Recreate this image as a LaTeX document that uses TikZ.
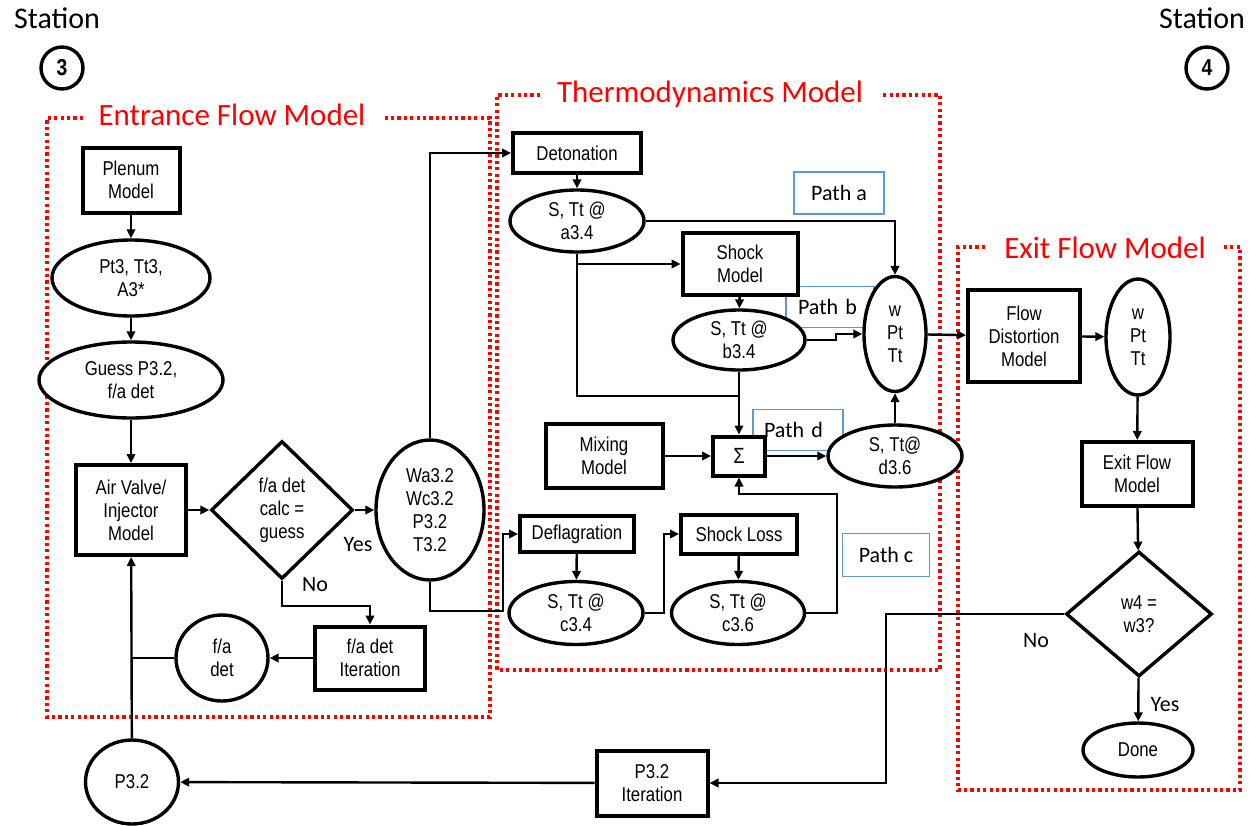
\documentclass[tikz,border=0pt]{standalone}
\usepackage{fontspec}
\newfontfamily\nf{Liberation Sans}[FakeStretch=0.84]
\newfontfamily\cf{Carlito}
\usetikzlibrary{shapes.geometric,arrows.meta,calc}
\definecolor{pblue}{RGB}{91,155,213}
\begin{document}
\begin{tikzpicture}[x=1pt,y=-1pt,
  base/.style={font=\nf\fontsize{20}{23}\selectfont, align=center, inner sep=0pt, fill=white},
  boxn/.style={base, draw, line width=4pt},
  elln/.style={base, draw, ellipse, line width=3.4pt},
  diam/.style={base, draw, diamond, line width=3.4pt},
  pathbox/.style={draw=pblue, line width=1.6pt, font=\cf\fontsize{22}{24}\selectfont, inner sep=0pt},
  lbl/.style={font=\cf\fontsize{22}{24}\selectfont, inner sep=0pt},
  ttl/.style={font=\cf\fontsize{31}{33}\selectfont, text=red, inner sep=0pt},
  reddot/.style={draw=red, line width=3.6pt, dash pattern=on 3.2pt off 3.2pt},
  ln/.style={line width=2.4pt},
  conn/.style={line width=2.4pt, -{Triangle[length=9pt,width=8.5pt]}},
  stc/.style={draw, circle, line width=3.4pt, minimum size=42pt, inner sep=0pt, font=\nf\bfseries\fontsize{23}{23}\selectfont}
]
\useasboundingbox (0,0) rectangle (1260,825);

% stations
\node[font=\cf\fontsize{30}{32}\selectfont, inner sep=0pt] (st3) at (57,18) {Station};
\node[stc] (c3) at (62,68) {3};
\node[font=\cf\fontsize{30}{32}\selectfont, inner sep=0pt] (st4) at (1202,18) {Station};
\node[stc] (c4) at (1207,68) {4};

% model frames
\draw[reddot] (83,118) -- (47,118) -- (47,717) -- (490,717) -- (490,118) -- (383,118);
\node[ttl] (tEnt) at (232,115) {Entrance Flow Model};
\draw[reddot] (540,95) -- (497,95) -- (497,670) -- (940,670) -- (940,95) -- (880,95);
\node[ttl] (tThe) at (710,94) {Thermodynamics Model};
\draw[reddot] (985,247) -- (958,247) -- (958,790) -- (1240,790) -- (1240,247) -- (1222,247);
\node[ttl] (tExi) at (1105,248) {Exit Flow Model};

% path label boxes
\node[pathbox, minimum width=90pt, minimum height=42pt] (pa) at (839,193) {Path a};
\node[pathbox, minimum width=88pt, minimum height=41pt, text width=80pt, align=left] (pb) at (830,307) {\hspace*{8pt}Path b};
\node[pathbox, minimum width=90pt, minimum height=41pt, text width=84pt, align=left] (pd) at (798,430) {\hspace*{8pt}Path d};
\node[pathbox, minimum width=87pt, minimum height=43pt] (pc) at (886,555) {Path c};

% entrance nodes
\node[boxn, minimum width=97pt, minimum height=65pt] (plen) at (131,180) {Plenum\\Model};
\node[elln, minimum width=158pt, minimum height=76pt] (pt3) at (131,278) {Pt3, Tt3,\\A3*};
\node[elln, minimum width=184pt, minimum height=76pt] (guess) at (131,380) {Guess P3.2,\\f/a det};
\node[boxn, minimum width=110pt, minimum height=90pt] (air) at (131,510) {Air Valve/\\Injector\\Model};
\node[diam, minimum width=142pt, minimum height=138pt] (dia) at (282,510) {f/a det\\calc =\\guess};
\node[elln, minimum width=108pt, minimum height=140pt] (wa) at (430,510) {Wa3.2\\Wc3.2\\P3.2\\T3.2};
\node[boxn, minimum width=110pt, minimum height=63pt] (iter) at (370,658) {f/a det\\Iteration};
\node[elln, minimum width=92pt, minimum height=86pt] (fad) at (222,658) {f/a\\det};
\node[elln, minimum width=93pt, minimum height=84pt] (p32) at (132,782) {P3.2};
\node[boxn, minimum width=111pt, minimum height=65pt] (p32it) at (652,783) {P3.2\\Iteration};

% thermo nodes
\node[boxn, minimum width=128pt, minimum height=40pt] (det) at (577,153) {Detonation};
\node[elln, minimum width=134pt, minimum height=62pt] (a34) at (577,221) {S, Tt @\\a3.4};
\node[boxn, minimum width=115pt, minimum height=62pt] (shock) at (740,264) {Shock\\Model};
\node[elln, minimum width=132pt, minimum height=60pt] (b34) at (739,340) {S, Tt @\\b3.4};
\node[elln, minimum width=62pt, minimum height=115pt] (w1) at (895,334) {w\\Pt\\Tt};
\node[boxn, minimum width=117pt, minimum height=64pt] (mix) at (604,456) {Mixing\\Model};
\node[boxn, minimum width=52pt, minimum height=39pt, font=\nf\fontsize{22}{22}\selectfont] (sig) at (739,456) {Σ};
\node[elln, minimum width=134pt, minimum height=62pt] (d36) at (895,456) {S, Tt@\\d3.6};
\node[boxn, minimum width=114pt, minimum height=36pt] (defl) at (577,534) {Deflagration};
\node[elln, minimum width=134pt, minimum height=63pt] (c34) at (576,613) {S, Tt @\\c3.4};
\node[boxn, minimum width=116pt, minimum height=39pt] (sl) at (739,534) {Shock Loss};
\node[elln, minimum width=133pt, minimum height=63pt] (c36) at (738,613) {S, Tt @\\c3.6};

% exit nodes
\node[boxn, minimum width=112pt, minimum height=92pt] (fd) at (1024,336) {Flow\\Distortion\\Model};
\node[elln, minimum width=64pt, minimum height=116pt] (w2) at (1138,337) {w\\Pt\\Tt};
\node[boxn, minimum width=111pt, minimum height=64pt] (exf) at (1137,474) {Exit Flow\\Model};
\node[diam, minimum width=146pt, minimum height=125pt] (d2) at (1139,614) {w4 =\\w3?};
\node[elln, minimum width=110pt, minimum height=54pt] (done) at (1138,750) {Done};

% labels
\node[lbl] (yes1) at (358,545) {Yes};
\node[lbl] (no1) at (315,585) {No};
\node[lbl] (no2) at (1036,641) {No};
\node[lbl] (yes2) at (1165,705) {Yes};

% coordinates
\coordinate (j1) at (739,396);
\coordinate (k1) at (503,611);
\coordinate (k2) at (886,783);
\coordinate (c2) at (837,494);

% entrance connectors
\draw[conn] (plen) -- (pt3);
\draw[conn] (pt3) -- (guess);
\draw[conn] (guess) -- (air);
\draw[conn] (air) -- (dia);
\draw[conn] (dia) -- (wa);
\draw[conn] (dia.south) -- ++(0,25) -| (iter.north);
\draw[conn] (iter) -- (fad);
\draw[ln] (fad.west) -- (air.south |- fad.west);
\draw[conn] (p32) -- (air);
\draw[conn] (p32it) -- (p32);
\draw[conn] (d2.west) -| (k2) -- (p32it.east);
\draw[conn] (wa.north) |- (det.west);
\draw[conn] (wa.south) |- (k1) |- (defl.west);

% thermo connectors
\draw[conn] (det) -- (a34);
\draw[conn] (a34.east) -| (w1.north);
\draw[ln] (a34.south) |- (j1);
\draw[conn] (a34.south |- shock.west) -- (shock.west);
\draw[conn] (shock) -- (b34);
\draw[conn] (b34.south) -- (sig.north);
\draw[conn] (b34.east) -- ++(29,0) |- (w1.west);
\draw[conn] (mix) -- (sig);
\draw[conn] (sig) -- (d36);
\draw[conn] (d36) -- (w1);
\draw[conn] (defl) -- (c34);
\draw[conn] (c34.east) -- ++(19,0) |- (sl.west);
\draw[conn] (sl) -- (c36);
\draw[conn] (c36.east) -| (c2) -- (sig.south |- c2) -- (sig.south);

% exit connectors
\draw[conn] (w1) -- (fd);
\draw[conn] (fd) -- (w2);
\draw[conn] (w2) -- (exf);
\draw[conn] (exf) -- (d2);
\draw[conn] (d2) -- (done);
\end{tikzpicture}
\end{document}
